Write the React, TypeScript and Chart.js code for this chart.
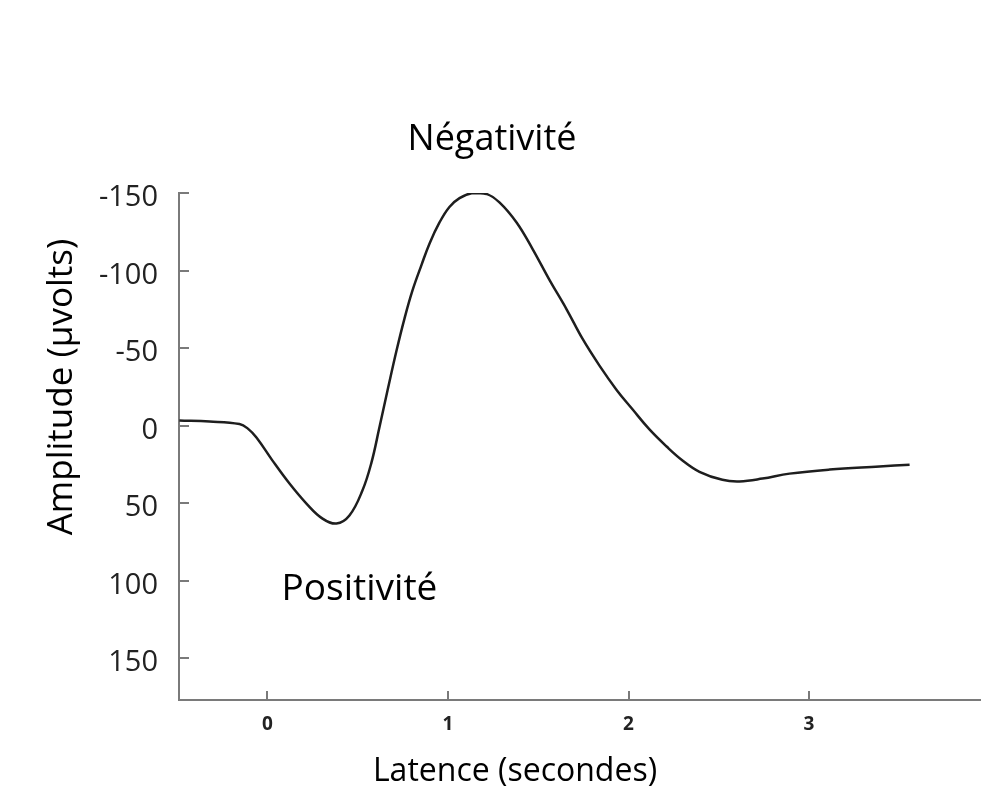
import React, { useEffect, useRef } from "react";
import { Chart, registerables } from "chart.js";

Chart.register(...registerables);

// Data
const latency = [-0.488, -0.32, -0.155, -0.11, -0.061, 0.028, 0.122, 0.216, 0.305, 0.382, 0.454, 0.526, 0.576, 0.62, 0.665, 0.715, 0.759, 0.803, 0.853, 0.898, 0.953, 1.008, 1.064, 1.136, 1.213, 1.285, 1.38, 1.468, 1.562, 1.657, 1.745, 1.84, 1.934, 2.022, 2.116, 2.211, 2.299, 2.393, 2.52, 2.615, 2.742, 2.892, 3.114, 3.39, 3.557];
const amplitude = [-3.2, -2.6, -1.0, 1.8, 7.7, 22.6, 37.4, 50.3, 60, 63.2, 58, 41.9, 23.9, 1.3, -22.6, -48.4, -69, -87, -103.5, -117.5, -131, -141, -146.7, -150, -149.4, -144, -131, -114, -94, -75, -56, -38.5, -23, -10.5, 2.5, 13.5, 22.5, 29.8, 35, 36, 34.2, 31, 28.4, 26.4, 25.2];
const yTickValues = [-150, -100, -50, 0, 50, 100, 150];
const xTickValues = [0, 1, 2, 3, 4];

const titleText = "Négativité";
const positiveLabel = "Positivité";
const yTitle = "Amplitude (µvolts)";
const xTitle = "Latence (secondes)";

const FONT = "'Open Sans', 'Noto Sans', sans-serif";

export default function App() {
  const ref = useRef<HTMLCanvasElement | null>(null);

  useEffect(() => {
    document.body.style.margin = "0";
    document.body.style.overflow = "hidden";
    const canvas = ref.current!;
    const textPlugin = {
      id: "textPlugin",
      afterDraw(chart: any) {
        const ctx = chart.ctx;
        const xs = chart.scales.x;
        const ys = chart.scales.y;
        const area = chart.chartArea;
        ctx.save();
        // inside tick marks
        ctx.strokeStyle = "#7a7a7a";
        ctx.lineWidth = 2;
        ys.ticks.forEach((t: any) => {
          const p = Math.round(ys.getPixelForValue(t.value));
          ctx.beginPath();
          ctx.moveTo(area.left, p);
          ctx.lineTo(area.left + 10, p);
          ctx.stroke();
        });
        xs.ticks.forEach((t: any) => {
          const p = Math.round(xs.getPixelForValue(t.value));
          ctx.beginPath();
          ctx.moveTo(p, area.bottom);
          ctx.lineTo(p, area.bottom - 9);
          ctx.stroke();
        });
        // texts
        ctx.fillStyle = "#000";
        ctx.textBaseline = "middle";
        ctx.textAlign = "center";
        ctx.font = `36px ${FONT}`;
        ctx.fillText(titleText, 492, 140);
        ctx.textAlign = "left";
        ctx.font = `37px ${FONT}`;
        ctx.fillText(positiveLabel, xs.getPixelForValue(0.078), ys.getPixelForValue(106));
        ctx.textAlign = "center";
        ctx.font = `32px ${FONT}`;
        ctx.fillText(xTitle, 515, 772);
        ctx.font = `35px ${FONT}`;
        ctx.translate(62, 387);
        ctx.rotate(-Math.PI / 2);
        ctx.fillText(yTitle, 0, 0);
        ctx.restore();
      },
    };

    const chart = new Chart(canvas, {
      type: "line",
      data: {
        datasets: [
          {
            data: latency.map((x, i) => ({ x, y: amplitude[i] })),
            borderColor: "#1e1e1e",
            borderWidth: 2.5,
            pointRadius: 0,
            tension: 0.4,
            fill: false,
          },
        ],
      },
      options: {
        animation: false,
        responsive: false,
        layout: { padding: { left: 0, right: 10, top: 193, bottom: 0 } },
        plugins: {
          legend: { display: false },
          tooltip: { enabled: false },
          title: { display: false },
        },
        scales: {
          x: {
            type: "linear",
            min: -0.49,
            max: 4,
            afterBuildTicks: (s: any) => {
              s.ticks = xTickValues.map((v) => ({ value: v }));
            },
            afterFit: (s: any) => {
              s.height = 98;
            },
            grid: { display: false, drawTicks: false },
            border: { display: true, color: "#7a7a7a", width: 2 },
            ticks: {
              padding: 13,
              color: "#222",
              font: { family: FONT, size: 19, weight: "bold" },
              maxRotation: 0,
              autoSkip: false,
            },
          },
          y: {
            type: "linear",
            reverse: true,
            min: -150,
            max: 177,
            afterBuildTicks: (s: any) => {
              s.ticks = yTickValues.map((v) => ({ value: v }));
            },
            afterFit: (s: any) => {
              s.width = 179;
            },
            grid: { display: false, drawTicks: false },
            border: { display: true, color: "#7a7a7a", width: 2 },
            ticks: {
              padding: 21,
              labelOffset: 5,
              color: "#222",
              font: { family: FONT, size: 29 },
              autoSkip: false,
            },
          },
        },
      },
      plugins: [textPlugin],
    } as any);
    return () => chart.destroy();
  }, []);

  return (
    <div style={{ width: 981, height: 798, overflow: "hidden", background: "#fff" }}>
      <canvas ref={ref} width={1008} height={798} style={{ display: "block" }} />
    </div>
  );
}
